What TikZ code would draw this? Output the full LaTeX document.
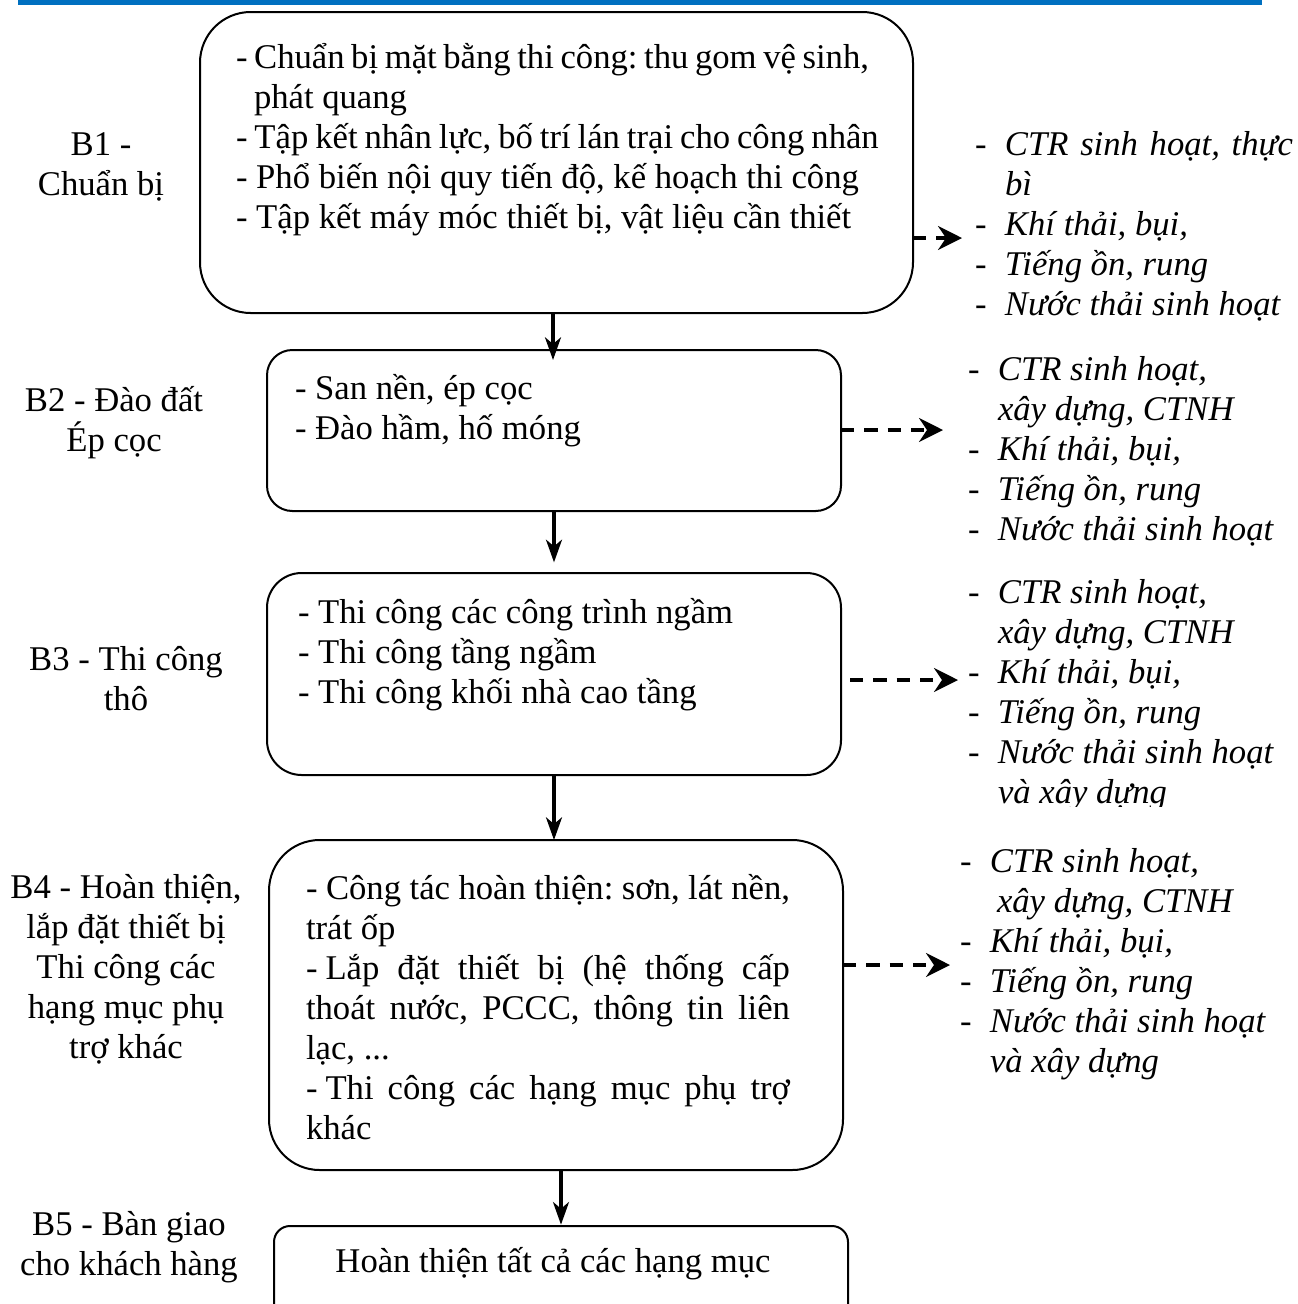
\documentclass[tikz,border=0pt]{standalone}
\usepackage{fontspec}
\setmainfont{Liberation Serif}
\usetikzlibrary{arrows.meta}
\definecolor{barblue}{HTML}{0070C0}
\hyphenpenalty=10000
\exhyphenpenalty=10000
\frenchspacing
\begin{document}
\begin{tikzpicture}[x=0.75pt,y=-0.75pt,
  every node/.style={inner sep=0pt, outer sep=0pt},
  txt/.style={font=\fontsize{26}{30}\selectfont},
  itxt/.style={font=\fontsize{26}{30}\selectfont\itshape},
  stepbox/.style={draw, line width=1.5pt},
  flow/.style={line width=2.3pt, -{Stealth[length=17pt,width=12pt,inset=5pt]}},
  emit/.style={line width=2.5pt, dash pattern=on 10pt off 7.5pt, -{Stealth[length=18pt,width=18pt,inset=6pt]}},
]
\useasboundingbox (0,0) rectangle (1297,1304);

% header rule
\fill[barblue] (18,0) rectangle (1262,5);

% process boxes
\node[stepbox, rounded corners=38pt, minimum width=534.75pt, minimum height=225.75pt] (b1box) at (556.5,162.5) {};
\node[stepbox, rounded corners=19pt, minimum width=430.5pt, minimum height=120.75pt] (b2box) at (554,430.5) {};
\node[stepbox, rounded corners=26pt, minimum width=430.5pt, minimum height=151.5pt] (b3box) at (554,674) {};
\node[stepbox, rounded corners=38pt, minimum width=430.5pt, minimum height=247.5pt] (b4box) at (556,1005) {};
\node[stepbox, rounded corners=12pt, minimum width=430.5pt, minimum height=72pt] (b5box) at (561,1274) {};

% box contents (multi-line nodes are anchored on their last baseline)
\node[txt, anchor=base west, align=left] (b1text) at (236,228)
  {{\spaceskip=0.19em - Chuẩn bị mặt bằng thi công: thu gom vệ sinh,}\\ \hspace*{13.5pt}phát quang\\ {\spaceskip=0.2em - Tập kết nhân lực, bố trí lán trại cho công nhân}\\ - Phổ biến nội quy tiến độ, kế hoạch thi công\\ - Tập kết máy móc thiết bị, vật liệu cần thiết};
\node[txt, anchor=base west, align=left] (b2text) at (295,439)
  {- San nền, ép cọc\\ - Đào hầm, hố móng};
\node[txt, anchor=base west, align=left] (b3text) at (298,703)
  {- Thi công các công trình ngầm\\ - Thi công tầng ngầm\\ - Thi công khối nhà cao tầng};
\node[txt, anchor=base west, text width=363pt, align=justify] (b4text) at (306,899)
  {- Công tác hoàn thiện: sơn, lát nền,\linebreak trát ốp\par
   -\hspace{6pt}Lắp đặt thiết bị (hệ thống cấp\linebreak thoát nước, PCCC, thông tin liên\linebreak lạc, ...\par
   -\hspace{6pt}Thi công các hạng mục phụ trợ\linebreak khác};
\node[txt, anchor=base] (b5text) at (553,1272) {Hoàn thiện tất cả các hạng mục};

% stage labels
\node[txt, anchor=base, align=center] (l1) at (101,195) {B1 -\\ Chuẩn bị};
\node[txt, anchor=base, align=center] (l2) at (114,451) {B2 - Đào đất\\ Ép cọc};
\node[txt, anchor=base, align=center] (l3) at (126,710) {B3 - Thi công\\ thô};
\node[txt, anchor=base, align=center] (l4) at (126,1058) {B4 - Hoàn thiện,\\ lắp đặt thiết bị\\ Thi công các\\ hạng mục phụ\\ trợ khác};
\node[txt, anchor=base, align=center] (l5) at (129,1275) {B5 - Bàn giao\\ cho khách hàng};

% emission lists
\newcommand\dashitem{\makebox[22.5pt][l]{-}}
\node[itxt, anchor=base west, align=left] (r1) at (975,315)
  {\dashitem\hbox to 216pt{CTR\hfill sinh\hfill hoạt,\hfill thực}\\ \hspace*{22.5pt}bì\\ \dashitem Khí thải, bụi,\\ \dashitem Tiếng ồn, rung\\ \dashitem Nước thải sinh hoạt};
\node[itxt, anchor=base west, align=left] (r2) at (968,540)
  {\dashitem CTR sinh hoạt,\\ \hspace*{22.5pt}xây dựng, CTNH\\ \dashitem Khí thải, bụi,\\ \dashitem Tiếng ồn, rung\\ \dashitem Nước thải sinh hoạt};
\begin{scope}
  \clip (900,560) rectangle (1297,806);
  \node[itxt, anchor=base west, align=left] (r3) at (968,803)
    {\dashitem CTR sinh hoạt,\\ \hspace*{22.5pt}xây dựng, CTNH\\ \dashitem Khí thải, bụi,\\ \dashitem Tiếng ồn, rung\\ \dashitem Nước thải sinh hoạt\\ \hspace*{22.5pt}và xây dựng};
\end{scope}
\node[itxt, anchor=base west, align=left] (r4) at (960,1072)
  {\dashitem CTR sinh hoạt,\\ \hspace*{27.75pt}xây dựng, CTNH\\ \dashitem Khí thải, bụi,\\ \dashitem Tiếng ồn, rung\\ \dashitem Nước thải sinh hoạt\\ \hspace*{22.5pt}và xây dựng};

% sequence arrows
\coordinate (a1) at (553,0);
\draw[flow] (b1box.south -| a1) -- ([yshift=-7.5pt]b2box.north -| a1);
\draw[flow] (b3box.north |- b2box.south) -- ([yshift=8pt]b3box.north);
\draw[flow] (b3box.south) -- (b4box.north -| b3box.south);
\draw[flow] (b5box.north |- b4box.south) -- ([yshift=1pt]b5box.north);

% emission arrows
\coordinate (e1) at (962,238);
\coordinate (e2) at (943,430);
\coordinate (e3) at (958,680);
\coordinate (e4) at (950,965);
\draw[emit] (b1box.east |- e1) -- (e1);
\draw[emit] (b2box.east |- e2) -- (e2);
\draw[emit, shorten <=6.75pt] (b3box.east |- e3) -- (e3);
\draw[emit] (b4box.east |- e4) -- (e4);
\end{tikzpicture}
\end{document}
